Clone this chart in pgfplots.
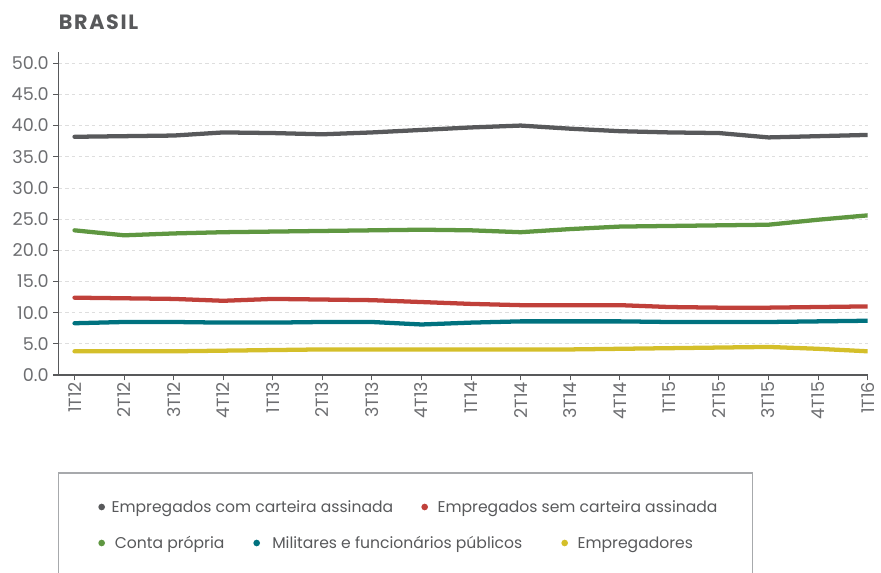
\documentclass[border=0pt]{standalone}
\usepackage{fontspec}
\setmainfont{Poppins}
\usepackage{pgfplots}
\pgfplotsset{compat=1.18}

\definecolor{cgray}{HTML}{58595B}
\definecolor{cred}{HTML}{C0403A}
\definecolor{cgreen}{HTML}{5F9741}
\definecolor{cteal}{HTML}{00727F}
\definecolor{cyellow}{HTML}{D4BF2A}
\definecolor{axisgray}{HTML}{58595B}
\definecolor{labelgray}{HTML}{6D6E71}
\definecolor{boxgray}{HTML}{A7A9AC}

\begin{document}
\begin{tikzpicture}
\path[use as bounding box] (-44pt,-148.5pt) rectangle (616.75pt,281.25pt);
\begin{axis}[
    at={(0,0)}, anchor=south west,
    scale only axis,
    width=606.75pt, height=242.25pt,
    xmin=-0.32, xmax=16,
    ymin=0, ymax=51.8,
    axis lines*=left,
    axis line style={color=axisgray, line width=1pt},
    xtick={0,...,16},
    xticklabels={1T12,2T12,3T12,4T12,1T13,2T13,3T13,4T13,1T14,2T14,3T14,4T14,1T15,2T15,3T15,4T15,1T16},
    ytick={0,5,...,50},
    yticklabel style={/pgf/number format/.cd, fixed, fixed zerofill, precision=1, assume math mode=true},
    tick align=outside,
    major tick length=4pt,
    tick style={color=axisgray, line width=0.8pt},
    ticklabel style={font=\fontsize{13.2}{15}\selectfont, color=labelgray},
    xticklabel style={rotate=90, anchor=east, inner sep=1pt},
    ymajorgrids,
    grid style={color=black!13, dash pattern=on 2.5pt off 2.5pt, line width=0.6pt},
    every axis plot/.append style={line width=3.2pt, line join=round, line cap=round},
]
% Empregados com carteira assinada
\addplot[cgray] coordinates {
 (0,38.2) (1,38.3) (2,38.4) (3,38.9) (4,38.8) (5,38.6) (6,38.9) (7,39.3) (8,39.7)
 (9,40.0) (10,39.5) (11,39.1) (12,38.9) (13,38.8) (14,38.1) (15,38.3) (16,38.5)};
% Conta propria
\addplot[cgreen] coordinates {
 (0,23.2) (1,22.4) (2,22.7) (3,22.9) (4,23.0) (5,23.1) (6,23.2) (7,23.3) (8,23.2)
 (9,22.9) (10,23.4) (11,23.8) (12,23.9) (13,24.0) (14,24.1) (15,24.9) (16,25.6)};
% Empregados sem carteira assinada
\addplot[cred] coordinates {
 (0,12.4) (1,12.3) (2,12.2) (3,11.9) (4,12.2) (5,12.1) (6,12.0) (7,11.7) (8,11.4)
 (9,11.2) (10,11.2) (11,11.2) (12,10.9) (13,10.8) (14,10.8) (15,10.9) (16,11.0)};
% Militares e funcionarios publicos
\addplot[cteal] coordinates {
 (0,8.3) (1,8.5) (2,8.5) (3,8.4) (4,8.4) (5,8.5) (6,8.5) (7,8.1) (8,8.4)
 (9,8.6) (10,8.6) (11,8.6) (12,8.5) (13,8.5) (14,8.5) (15,8.6) (16,8.7)};
% Empregadores
\addplot[cyellow] coordinates {
 (0,3.8) (1,3.8) (2,3.8) (3,3.9) (4,4.0) (5,4.1) (6,4.1) (7,4.1) (8,4.1)
 (9,4.1) (10,4.1) (11,4.2) (12,4.3) (13,4.4) (14,4.5) (15,4.2) (16,3.8)};
\end{axis}

% title
\node[anchor=west, inner sep=0pt, text=cgray, font=\fontsize{15.5}{17}\selectfont\bfseries\addfontfeatures{LetterSpace=8}]
  at (0pt,264.75pt) {BRASIL};

% legend
\draw[boxgray, line width=0.8pt] (0pt,-160pt) -- (0pt,-73.5pt) -- (520.5pt,-73.5pt) -- (520.5pt,-160pt);
\begin{scope}[every node/.style={anchor=mid west, inner sep=0pt, text=cgray, font=\fontsize{11.7}{13}\selectfont}]
\fill[cgray]   (32.25pt,-99pt) circle (2.5pt);
\node at (39.5pt,-100.5pt) {Empregados com carteira assinada};
\fill[cred]    (274.5pt,-99pt) circle (2.5pt);
\node at (284pt,-100.5pt) {Empregados sem carteira assinada};
\fill[cgreen]  (32.25pt,-126pt) circle (2.5pt);
\node at (42pt,-127.5pt) {Conta própria};
\fill[cteal]   (148.5pt,-126pt) circle (2.5pt);
\node at (160pt,-127.5pt) {Militares e funcionários públicos};
\fill[cyellow] (379.5pt,-126pt) circle (2.5pt);
\node at (389pt,-127.5pt) {Empregadores};
\end{scope}
\end{tikzpicture}
\end{document}
